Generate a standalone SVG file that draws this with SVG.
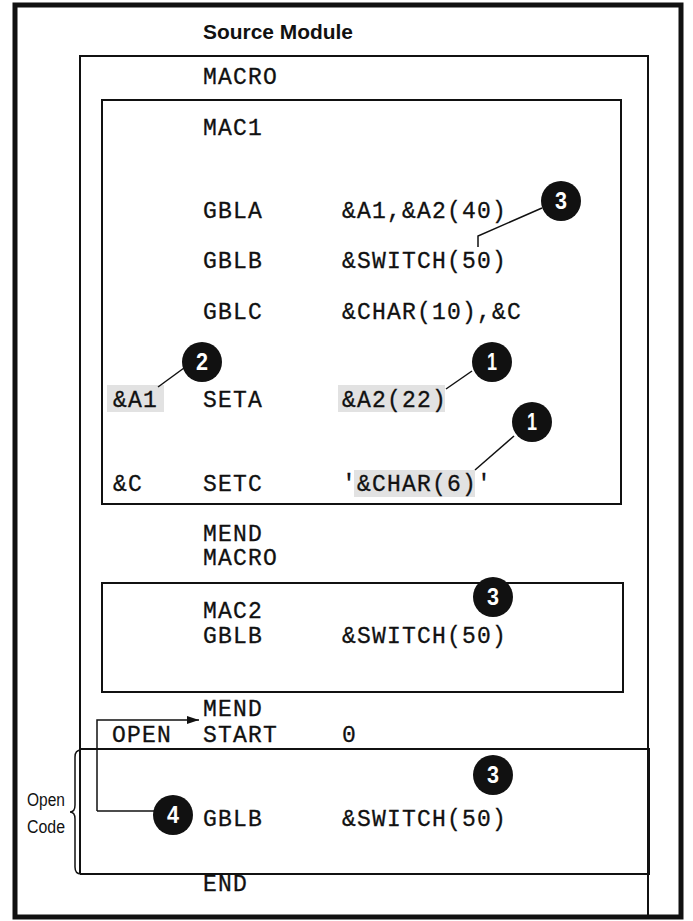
<svg xmlns="http://www.w3.org/2000/svg" width="693" height="921" viewBox="0 0 693 921">
<defs>
<style>
.code{font-family:"Liberation Mono","DejaVu Sans Mono",monospace;font-size:23px;letter-spacing:1.2px;fill:#111;stroke:#111;stroke-width:0.3}
.box{fill:none;stroke:#111;stroke-width:2}
.lead{fill:none;stroke:#111;stroke-width:1.5}
.num{font-family:"Liberation Sans",Arial,sans-serif;font-size:23px;font-weight:bold;fill:#fff;text-anchor:middle}
.hl{fill:#e2e2e2}
.sans{font-family:"Liberation Sans",Arial,sans-serif;fill:#111}
</style>
<marker id="arr" viewBox="0 0 12 10" refX="12" refY="5" markerWidth="12" markerHeight="10" markerUnits="userSpaceOnUse" orient="auto">
<path d="M0,1 L12,5 L0,9 Z" fill="#111"/>
</marker>
</defs>
<rect width="693" height="921" fill="#fff"/>

<g id="frame">
<rect x="15" y="5" width="666" height="912" fill="none" stroke="#111" stroke-width="5"/>
<text class="sans" x="203" y="39" font-size="21" font-weight="bold" textLength="150" lengthAdjust="spacingAndGlyphs">Source Module</text>
</g>

<g id="source-module">
<path class="box" d="M80,874 V56 H648 V917"/>
<text class="code" x="203" y="84">MACRO</text>
</g>

<g id="mac1">
<rect class="box" x="102" y="100" width="519" height="404"/>
<rect class="hl" x="107" y="385" width="57" height="27"/>
<rect class="hl" x="338" y="385" width="107" height="27"/>
<rect class="hl" x="354" y="470" width="121" height="27"/>
<text class="code" x="203" y="135">MAC1</text>
<text class="code" x="203" y="218">GBLA</text>
<text class="code" x="342" y="218">&amp;A1,&amp;A2(40)</text>
<text class="code" x="203" y="268">GBLB</text>
<text class="code" x="342" y="268">&amp;SWITCH(50)</text>
<text class="code" x="203" y="319">GBLC</text>
<text class="code" x="342" y="319">&amp;CHAR(10),&amp;C</text>
<text class="code" x="113" y="407">&amp;A1</text>
<text class="code" x="203" y="407">SETA</text>
<text class="code" x="342" y="407">&amp;A2(22)</text>
<text class="code" x="113" y="491">&amp;C</text>
<text class="code" x="203" y="491">SETC</text>
<text class="code" x="342" y="491">'&amp;CHAR(6)'</text>
</g>

<g id="between">
<text class="code" x="203" y="541">MEND</text>
<text class="code" x="203" y="565">MACRO</text>
</g>

<g id="mac2">
<rect class="box" x="102" y="583" width="521" height="109"/>
<text class="code" x="203" y="618">MAC2</text>
<text class="code" x="203" y="643">GBLB</text>
<text class="code" x="342" y="643">&amp;SWITCH(50)</text>
</g>

<g id="open-start">
<text class="code" x="203" y="716">MEND</text>
<text class="code" x="112" y="742">OPEN</text>
<text class="code" x="203" y="742">START</text>
<text class="code" x="342" y="742">0</text>
</g>

<g id="open-code">
<path class="box" d="M80,749 H649 V874 H80"/>
<text class="code" x="203" y="826">GBLB</text>
<text class="code" x="342" y="826">&amp;SWITCH(50)</text>
<path class="lead" d="M81,750 Q75,750 75,757 V805 Q75,812 70,812 Q75,812 75,819 V867 Q75,874 81,874"/>
<text class="sans" x="27" y="806" font-size="18" textLength="38" lengthAdjust="spacingAndGlyphs">Open</text>
<text class="sans" x="27" y="833" font-size="18" textLength="38" lengthAdjust="spacingAndGlyphs">Code</text>
<text class="code" x="203" y="891">END</text>
</g>

<g id="connectors">
<path class="lead" d="M97,811 V720 H199" marker-end="url(#arr)"/>
<path class="lead" d="M97,811 H154"/>
<path class="lead" d="M542,208 L478,236 V247"/>
<path class="lead" d="M184,368 L158,387"/>
<path class="lead" d="M472,371 L446,389"/>
<path class="lead" d="M514,436 L475,470"/>
</g>

<g id="callout-3a"><circle cx="561" cy="201" r="20" fill="#111"/><text class="num" x="561" y="209" textLength="12" lengthAdjust="spacingAndGlyphs">3</text></g>
<g id="callout-2"><circle cx="202" cy="362" r="20" fill="#111"/><text class="num" x="202" y="370" textLength="12" lengthAdjust="spacingAndGlyphs">2</text></g>
<g id="callout-1a"><circle cx="492" cy="362" r="20" fill="#111"/><text class="num" x="492" y="370" textLength="10" lengthAdjust="spacingAndGlyphs">1</text></g>
<g id="callout-1b"><circle cx="532" cy="422" r="20" fill="#111"/><text class="num" x="532" y="430" textLength="10" lengthAdjust="spacingAndGlyphs">1</text></g>
<g id="callout-3b"><circle cx="493" cy="597" r="20" fill="#111"/><text class="num" x="493" y="605" textLength="12" lengthAdjust="spacingAndGlyphs">3</text></g>
<g id="callout-3c"><circle cx="493" cy="775" r="20" fill="#111"/><text class="num" x="493" y="783" textLength="12" lengthAdjust="spacingAndGlyphs">3</text></g>
<g id="callout-4"><circle cx="173" cy="815" r="20" fill="#111"/><text class="num" x="173" y="823" textLength="12" lengthAdjust="spacingAndGlyphs">4</text></g>
</svg>
